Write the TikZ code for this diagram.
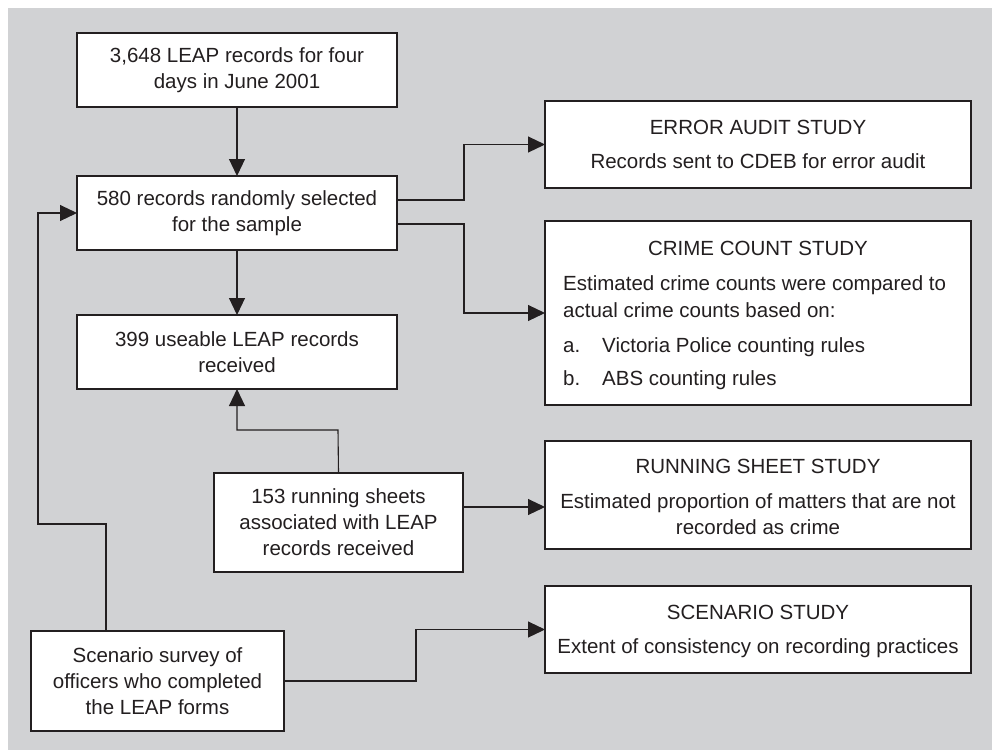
\documentclass[tikz,border=0pt]{standalone}
\usepackage{fontspec}
\setmainfont{Liberation Sans}
\usetikzlibrary{arrows.meta,positioning}
\definecolor{bggrey}{RGB}{209,210,212}
\definecolor{ink}{RGB}{35,31,32}
\begin{document}
\begin{tikzpicture}[x=1pt,y=-1pt,
  box/.style={draw=ink,line width=1.1pt,fill=white,inner sep=0pt,outer sep=0pt,align=center,text=ink,
    font=\fontsize{20.5}{26}\selectfont},
  lbl/.style={anchor=base,text=ink,inner sep=0pt,font=\fontsize{20.5}{26}\selectfont},
  lbll/.style={anchor=base west,text=ink,inner sep=0pt,font=\fontsize{20.5}{26}\selectfont},
  conn/.style={draw=ink,line width=1.1pt},
  arr/.style={conn,-{Triangle[length=17pt,width=16pt]}}]
\useasboundingbox (0,0) rectangle (992,750);
\fill[white] (0,0) rectangle (992,750);
\fill[bggrey] (8,8) rectangle (992,750);

% left column boxes
\node[box,minimum width=320pt,minimum height=74pt] (b1) at (237,70) {3,648 LEAP records for four\\days in June 2001};
\node[box,minimum width=320pt,minimum height=74pt] (b2) at (237,213) {580 records randomly selected\\for the sample};
\node[box,minimum width=320pt,minimum height=74pt] (b3) at (237,352) {399 useable LEAP records\\received};
\node[box,minimum width=249pt,minimum height=99pt] (b4) at (338.5,522.5) {153 running sheets\\associated with LEAP\\records received};
\node[box,minimum width=253pt,minimum height=100pt] (b5) at (157.5,681) {Scenario survey of\\officers who completed\\the LEAP forms};

% study boxes
\node[box,minimum width=426pt,minimum height=87pt] (s1) at (758,144.5) {};
\node[box,minimum width=426pt,minimum height=184pt] (s2) at (758,313) {};
\node[box,minimum width=426pt,minimum height=108pt] (s3) at (758,495) {};
\node[box,minimum width=426pt,minimum height=87pt] (s4) at (758,629.5) {};

\node[lbl] (t1) at (758,134) {ERROR AUDIT STUDY};
\node[lbl] (t1b) at (758,168) {Records sent to CDEB for error audit};

\node[lbl] (t2) at (758,255) {CRIME COUNT STUDY};
\node[lbll] (t2a) at (563,290) {Estimated crime counts were compared to};
\node[lbll] (t2b) at (563,317) {actual crime counts based on:};
\node[lbll] (t2c) at (563,352) {a.};
\node[lbll] (t2d) at (602,352) {Victoria Police counting rules};
\node[lbll] (t2e) at (563,385) {b.};
\node[lbll] (t2f) at (602,385) {ABS counting rules};

\node[lbl] (t3) at (758,473) {RUNNING SHEET STUDY};
\node[lbl] (t3a) at (758,508) {Estimated proportion of matters that are not};
\node[lbl] (t3b) at (758,534) {recorded as crime};

\node[lbl] (t4) at (758,619) {SCENARIO STUDY};
\node[lbl] (t4a) at (758,653) {Extent of consistency on recording practices};

% helper coordinates
\coordinate (c1) at (106,0);
\coordinate (c2) at (38,524);
\coordinate (c3) at (416,650);
\coordinate (c4) at (464,0);
\coordinate (c5) at (0,507);
\coordinate (c6) at (338,430);

% connectors
\draw[arr] (b1.south) -- (b2.north);
\draw[arr] (b2.south) -- (b3.north);
\draw[arr] (b4.north) -- (c6) -| (b3.south);
\draw[arr] (b5.north -| c1) |- (c2) |- (b2.west);
\draw[arr] (b5.east) -| (c3) |- (s4.west);
\draw[arr] ([yshift=13pt]b2.east) -| (c4 |- s1.west) -- (s1.west);
\draw[arr] ([yshift=-11pt]b2.east) -| (c4 |- s2.west) -- (s2.west);
\draw[arr] (b4.east |- c5) -- (s3.west |- c5);
\end{tikzpicture}
\end{document}
